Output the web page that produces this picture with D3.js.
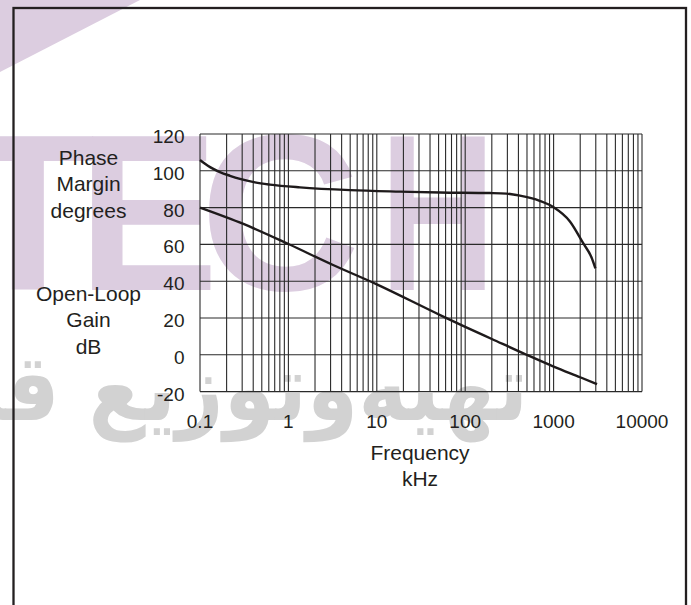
<!DOCTYPE html>
<html>
<head>
<meta charset="utf-8">
<script src="https://cdnjs.cloudflare.com/ajax/libs/d3/7.8.5/d3.min.js"></script>
<style>
  body { margin: 0; background: #fff; }
  svg { display: block; }
  .lbl { font-family: "Liberation Sans", Arial, sans-serif; fill: #231f20; }
</style>
</head>
<body>
<div id="chart"></div>
<script>
// values
var freqTicks = [0.1, 1, 10, 100, 1000, 10000];
var valueTicks = [120, 100, 80, 60, 40, 20, 0, -20];

var phaseFreq = [0.1, 0.114, 0.13, 0.168, 0.2185, 0.283, 0.419, 0.619, 1.35, 4.98, 18.3, 52, 190, 294, 416, 696, 1000, 1530, 2170, 2680, 2970];
var phaseDeg  = [105.9, 103.8, 102.0, 99.3, 97.3, 95.6, 93.7, 92.5, 91.0, 89.5, 88.7, 88.2, 87.9, 87.6, 86.5, 83.7, 80.2, 72.5, 60.5, 53, 47];

var gainFreq = [0.1, 0.31, 1, 3.2, 10, 52, 100, 200, 500, 1000, 2000, 3100];
var gainDb   = [80, 71.1, 60.2, 48.8, 38.3, 21.6, 15.2, 8.6, -0.1, -6.4, -12.2, -15.9];

var leftTop = ["Phase", "Margin", "degrees"];
var leftBottom = ["Open-Loop", "Gain", "dB"];
var xTitle = ["Frequency", "kHz"];

(function () {
    var width = 691, height = 605;

    var svg = d3.select("#chart")
        .append("svg")
        .attr("width", width)
        .attr("height", height);

    // watermark behind everything
    var wm = svg.append("g").attr("class", "watermark");

    wm.append("path")
        .attr("d", "M0,0 L140,0 L0,72 Z")
        .attr("fill", "#dccde0");

    var letters = [["T", -40, 1], ["E", 78, 0.95], ["C", 200, 1], ["H", 380, 0.72]];
    wm.selectAll(".wl")
        .data(letters)
        .enter().append("text")
        .attr("class", "wl")
        .attr("transform", function (d) { return "translate(" + d[1] + ",290) scale(" + d[2] + ",1)"; })
        .attr("font-family", "Liberation Sans, Arial, sans-serif")
        .attr("font-weight", "bold")
        .attr("font-size", 222)
        .attr("fill", "#dccde0")
        .text(function (d) { return d[0]; });

    wm.append("text")
        .attr("transform", "translate(528,420) scale(0.9,1)")
        .attr("text-anchor", "end")
        .attr("font-family", "DejaVu Sans, sans-serif")
        .attr("font-weight", "bold")
        .attr("font-size", 92)
        .attr("fill", "#d2d2d2")
        .text("تهیه\u200cوتوزیع قطعات");

    // frame
    svg.append("rect")
        .attr("x", 13.5)
        .attr("y", 8)
        .attr("width", 672.5)
        .attr("height", 700)
        .attr("fill", "none")
        .attr("stroke", "#231f20")
        .attr("stroke-width", 2.3);

    var x = d3.scaleLog().domain([0.1, 10000]).range([200, 642]);
    var y = d3.scaleLinear().domain([-20, 120]).range([391.6, 134]);

    var grid = svg.append("g")
        .attr("stroke", "#2a2a2a")
        .attr("stroke-width", 1.1);

    grid.selectAll(".vg")
        .data(x.ticks())
        .enter().append("line")
        .attr("class", "vg")
        .attr("x1", function (d) { return x(d); })
        .attr("x2", function (d) { return x(d); })
        .attr("y1", y(120))
        .attr("y2", y(-20));

    grid.selectAll(".hg")
        .data(valueTicks)
        .enter().append("line")
        .attr("class", "hg")
        .attr("x1", x(0.1))
        .attr("x2", x(10000))
        .attr("y1", function (d) { return y(d); })
        .attr("y2", function (d) { return y(d); });

    var line = d3.line()
        .x(function (d) { return x(d[0]); })
        .y(function (d) { return y(d[1]); })
        .curve(d3.curveMonotoneX);

    var phase = phaseFreq.map(function (f, i) { return [f, phaseDeg[i]]; });
    var gain = gainFreq.map(function (f, i) { return [f, gainDb[i]]; });

    svg.selectAll(".curve")
        .data([phase, gain])
        .enter().append("path")
        .attr("class", "curve")
        .attr("d", line)
        .attr("fill", "none")
        .attr("stroke", "#1e1a1b")
        .attr("stroke-width", 2.4);

    // tick labels
    svg.selectAll(".yt")
        .data(valueTicks)
        .enter().append("text")
        .attr("class", "yt lbl")
        .attr("x", 184.5)
        .attr("y", function (d) { return y(d) + 9; })
        .attr("text-anchor", "end")
        .attr("font-size", 19)
        .text(function (d) { return d; });

    svg.selectAll(".xt")
        .data(freqTicks)
        .enter().append("text")
        .attr("class", "xt lbl")
        .attr("x", function (d) { return x(d); })
        .attr("y", 428)
        .attr("text-anchor", "middle")
        .attr("font-size", 19)
        .text(function (d) { return d; });

    // axis titles
    function stack(lines, cx, top) {
        svg.selectAll(null)
            .data(lines)
            .enter().append("text")
            .attr("class", "lbl")
            .attr("x", cx)
            .attr("y", function (d, i) { return top + i * 26.8; })
            .attr("text-anchor", "middle")
            .attr("font-size", 21)
            .text(function (d) { return d; });
    }
    stack(leftTop, 88.5, 164.5);
    stack(leftBottom, 88.5, 300.5);
    stack(xTitle, 420, 459.5);
})();
</script>
</body>
</html>
